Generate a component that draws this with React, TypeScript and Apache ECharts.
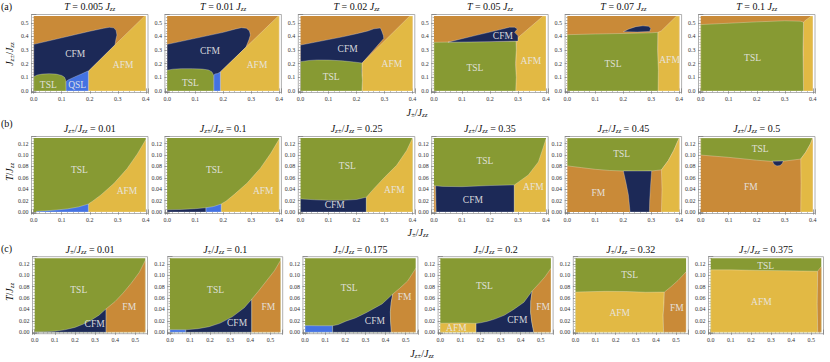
import React, { useEffect, useRef } from "react";
import * as echarts from "echarts";

const SERIF = "Liberation Serif";
const PHASE_COLOR: Record<string, string> = {
  FM: "#C98A38",
  CFM: "#1C2957",
  AFM: "#E2B944",
  TSL: "#879A33",
  QSL: "#4472E2",
};

// ---------- Row (a): x = J±/Jzz, y = Jz±/Jzz at fixed T ----------
const rowA_T = ["0.005", "0.01", "0.02", "0.05", "0.07", "0.1"];

const a1_CFM = [[0, 0], [0, 0.342], [0.05, 0.366], [0.1, 0.39], [0.15, 0.414], [0.2, 0.438], [0.25, 0.46], [0.27, 0.467], [0.285, 0.463], [0.294, 0.445], [0.297, 0.41], [0.293, 0.375], [0.29, 0.338], [0.195, 0.145], [0.195, 0]];
const a1_AFM = [[0.195, 0], [0.4, 0], [0.4, 0.55], [0.396, 0.55], [0.29, 0.338], [0.195, 0.145]];
const a1_TSL = [[0, 0], [0, 0.105], [0.012, 0.117], [0.03, 0.124], [0.055, 0.127], [0.08, 0.124], [0.1, 0.114], [0.11, 0.1], [0.115, 0.075], [0.116, 0]];
const a1_QSL = [[0.116, 0], [0.195, 0], [0.195, 0.148], [0.17, 0.125], [0.14, 0.098], [0.122, 0.08], [0.116, 0.07]];
const a1_labels = [["CFM", 0.148, 0.27], ["AFM", 0.319, 0.19], ["TSL", 0.052, 0.043], ["QSL", 0.155, 0.043]];

const a2_CFM = [[0, 0], [0, 0.342], [0.05, 0.364], [0.1, 0.386], [0.15, 0.408], [0.2, 0.43], [0.245, 0.455], [0.265, 0.464], [0.283, 0.46], [0.294, 0.44], [0.297, 0.41], [0.292, 0.375], [0.281, 0.32], [0.19, 0.14], [0.19, 0]];
const a2_AFM = [[0.19, 0], [0.4, 0], [0.4, 0.55], [0.397, 0.55], [0.281, 0.32], [0.19, 0.14]];
const a2_TSL = [[0, 0], [0, 0.152], [0.02, 0.16], [0.05, 0.164], [0.09, 0.164], [0.125, 0.161], [0.148, 0.154], [0.16, 0.14], [0.166, 0.115], [0.167, 0]];
const a2_QSL = [[0.167, 0], [0.19, 0], [0.19, 0.14], [0.18, 0.128], [0.17, 0.125], [0.167, 0.11]];
const a2_labels = [["CFM", 0.153, 0.29], ["AFM", 0.321, 0.19], ["TSL", 0.083, 0.06]];

const a3_CFM = [[0, 0], [0, 0.337], [0.05, 0.357], [0.1, 0.377], [0.15, 0.397], [0.2, 0.42], [0.24, 0.44], [0.262, 0.456], [0.285, 0.462], [0.29, 0.44], [0.296, 0.405], [0.297, 0.385], [0.22, 0.205], [0.22, 0]];
const a3_AFM = [[0.22, 0], [0.4, 0], [0.4, 0.55], [0.39, 0.55], [0.22, 0.205]];
const a3_TSL = [[0, 0], [0, 0.215], [0.03, 0.224], [0.06, 0.228], [0.1, 0.227], [0.15, 0.221], [0.19, 0.213], [0.22, 0.205], [0.218, 0.15], [0.221, 0.08], [0.219, 0]];
const a3_labels = [["CFM", 0.168, 0.31], ["AFM", 0.326, 0.197], ["TSL", 0.109, 0.1]];

const a4_AFM = [[0.292, 0], [0.4, 0], [0.4, 0.55], [0.39, 0.55], [0.305, 0.4], [0.296, 0.37], [0.293, 0.3]];
const a4_TSL = [[0, 0], [0, 0.357], [0.1, 0.36], [0.2, 0.362], [0.293, 0.366], [0.294, 0.3], [0.291, 0.2], [0.294, 0.1], [0.292, 0]];
const a4_CFM = [[0.05, 0.358], [0.1, 0.383], [0.15, 0.408], [0.2, 0.432], [0.24, 0.452], [0.27, 0.468], [0.288, 0.468], [0.298, 0.455], [0.288, 0.43], [0.3, 0.405], [0.3, 0.366], [0.2, 0.362]];
const a4_labels = [["CFM", 0.246, 0.4], ["AFM", 0.346, 0.22], ["TSL", 0.146, 0.168]];

const a5_AFM = [[0.323, 0], [0.4, 0], [0.4, 0.55], [0.39, 0.55], [0.335, 0.44], [0.323, 0.43]];
const a5_TSL = [[0, 0], [0, 0.413], [0.1, 0.418], [0.2, 0.422], [0.3, 0.427], [0.323, 0.43], [0.322, 0.3], [0.325, 0.15], [0.324, 0]];
const a5_CFM = [[0.2, 0.435], [0.22, 0.455], [0.245, 0.472], [0.27, 0.478], [0.29, 0.474], [0.298, 0.46], [0.294, 0.437], [0.25, 0.433]];
const a5_labels = [["TSL", 0.163, 0.2], ["AFM", 0.365, 0.228]];

const a6_AFM = [[0.366, 0], [0.4, 0], [0.4, 0.55], [0.395, 0.55], [0.372, 0.515], [0.367, 0.505]];
const a6_TSL = [[0, 0], [0, 0.487], [0.1, 0.497], [0.2, 0.507], [0.3, 0.515], [0.355, 0.512], [0.367, 0.505], [0.365, 0.3], [0.367, 0]];
const a6_labels = [["TSL", 0.185, 0.24]];

// ---------- Row (b): x = J±/Jzz, y = T/Jzz at fixed Jz± ----------
const rowB_Jzpm = ["0.01", "0.1", "0.25", "0.35", "0.45", "0.5"];

const b1_AFM = [[0.195, 0], [0.4, 0], [0.4, 0.127], [0.37, 0.102], [0.333, 0.076], [0.286, 0.05], [0.24, 0.03], [0.21, 0.019], [0.195, 0.014]];
const b1_QSL = [[0.01, 0], [0.195, 0], [0.195, 0.014], [0.16, 0.009], [0.12, 0.0055], [0.08, 0.0035], [0.04, 0.002], [0.01, 0.0012]];
const b1_labels = [["TSL", 0.163, 0.073], ["AFM", 0.333, 0.037]];

const b2_AFM = [[0.193, 0], [0.4, 0], [0.4, 0.128], [0.37, 0.103], [0.333, 0.077], [0.286, 0.051], [0.24, 0.031], [0.21, 0.019], [0.193, 0.014]];
const b2_QSL = [[0.138, 0], [0.193, 0], [0.193, 0.014], [0.165, 0.0095], [0.138, 0.0075]];
const b2_CFM = [[0, 0], [0.138, 0], [0.138, 0.0075], [0.1, 0.0058], [0.05, 0.0045], [0, 0.0038]];
const b2_labels = [["TSL", 0.169, 0.073], ["AFM", 0.343, 0.037]];

const b3_CFM = [[0, 0], [0.235, 0], [0.235, 0.026], [0.2, 0.022], [0.15, 0.0205], [0.1, 0.0205], [0.05, 0.0215], [0, 0.023]];
const b3_AFM = [[0.235, 0], [0.4, 0], [0.4, 0.13], [0.379, 0.108], [0.343, 0.082], [0.3, 0.061], [0.26, 0.04], [0.235, 0.026]];
const b3_labels = [["TSL", 0.167, 0.08], ["CFM", 0.122, 0.0127], ["AFM", 0.335, 0.0386]];

const b4_FM = [[0, 0], [0.008, 0], [0.006, 0.046], [0, 0.046]];
const b4_CFM = [[0.008, 0], [0.287, 0], [0.287, 0.0475], [0.2, 0.0465], [0.1, 0.0445], [0.03, 0.045], [0.006, 0.046]];
const b4_AFM = [[0.287, 0], [0.4, 0], [0.4, 0.128], [0.39, 0.113], [0.373, 0.088], [0.337, 0.065], [0.3, 0.052], [0.287, 0.0475]];
const b4_labels = [["TSL", 0.182, 0.089], ["CFM", 0.139, 0.021], ["AFM", 0.355, 0.044]];

const b5_TSL = [[0, 0.13], [0, 0.081], [0.05, 0.078], [0.1, 0.075], [0.15, 0.073], [0.2, 0.072], [0.25, 0.0715], [0.3, 0.072], [0.336, 0.074], [0.36, 0.09], [0.38, 0.108], [0.395, 0.125], [0.4, 0.13]];
const b5_CFM = [[0.2, 0.072], [0.301, 0.072], [0.297, 0.045], [0.294, 0.02], [0.293, 0], [0.224, 0], [0.218, 0.03], [0.21, 0.05]];
const b5_AFM = [[0.336, 0], [0.4, 0], [0.4, 0.13], [0.395, 0.125], [0.38, 0.108], [0.36, 0.09], [0.336, 0.074], [0.338, 0.04]];
const b5_labels = [["TSL", 0.194, 0.101], ["FM", 0.111, 0.034]];

const b6_TSL = [[0, 0.13], [0, 0.1], [0.1, 0.096], [0.2, 0.091], [0.25, 0.089], [0.3, 0.0895], [0.357, 0.093], [0.375, 0.105], [0.392, 0.12], [0.4, 0.13]];
const b6_CFM = [[0.256, 0.0892], [0.262, 0.0835], [0.272, 0.081], [0.283, 0.0815], [0.291, 0.085], [0.295, 0.0895]];
const b6_AFM = [[0.357, 0], [0.4, 0], [0.4, 0.13], [0.392, 0.12], [0.375, 0.105], [0.357, 0.093], [0.358, 0.05]];
const b6_labels = [["TSL", 0.212, 0.111], ["FM", 0.179, 0.0446]];

// ---------- Row (c): x = Jz±/Jzz, y = T/Jzz at fixed J± ----------
const rowC_Jpm = ["0.01", "0.1", "0.175", "0.2", "0.32", "0.375"];

const c1_CFM = [[0, 0], [0.355, 0], [0.355, 0.041], [0.32, 0.03], [0.28, 0.021], [0.24, 0.014], [0.2, 0.0085], [0.15, 0.0042], [0.1, 0.0018], [0.05, 0.0008], [0, 0.0005]];
const c1_FM = [[0.355, 0], [0.55, 0], [0.55, 0.126], [0.52, 0.105], [0.48, 0.086], [0.44, 0.069], [0.4, 0.054], [0.355, 0.041]];
const c1_labels = [["TSL", 0.219, 0.075], ["CFM", 0.298, 0.0137], ["FM", 0.47, 0.044]];

const c2_QSL = [[0, 0], [0.079, 0], [0.079, 0.0042], [0, 0.0045]];
const c2_CFM = [[0.079, 0], [0.407, 0], [0.407, 0.058], [0.37, 0.043], [0.31, 0.027], [0.25, 0.016], [0.195, 0.0097], [0.14, 0.0062], [0.079, 0.0042]];
const c2_FM = [[0.407, 0], [0.55, 0], [0.55, 0.126], [0.52, 0.108], [0.48, 0.09], [0.44, 0.072], [0.407, 0.058]];
const c2_labels = [["TSL", 0.227, 0.075], ["CFM", 0.334, 0.0154], ["FM", 0.49, 0.044]];

const c3_QSL = [[0, 0], [0.137, 0], [0.137, 0.0114], [0.07, 0.0114], [0, 0.0116]];
const c3_CFM = [[0.137, 0], [0.429, 0], [0.425, 0.02], [0.424, 0.036], [0.428, 0.052], [0.436, 0.067], [0.383, 0.0497], [0.301, 0.0337], [0.25, 0.025], [0.203, 0.0194], [0.165, 0.0135], [0.137, 0.0114]];
const c3_FM = [[0.429, 0], [0.55, 0], [0.55, 0.112], [0.51, 0.09], [0.47, 0.077], [0.436, 0.067], [0.428, 0.052], [0.424, 0.036], [0.425, 0.02]];
const c3_labels = [["TSL", 0.219, 0.078], ["CFM", 0.347, 0.019], ["FM", 0.495, 0.061]];

const c4_AFM = [[0, 0], [0.178, 0], [0.178, 0.0155], [0.1, 0.0162], [0, 0.0158]];
const c4_CFM = [[0.178, 0], [0.465, 0], [0.455, 0.018], [0.449, 0.035], [0.45, 0.055], [0.457, 0.0725], [0.416, 0.0526], [0.365, 0.04], [0.318, 0.0297], [0.27, 0.023], [0.236, 0.0194], [0.2, 0.0165], [0.178, 0.0155]];
const c4_FM = [[0.465, 0], [0.55, 0], [0.55, 0.112], [0.52, 0.097], [0.49, 0.085], [0.457, 0.0725], [0.45, 0.055], [0.449, 0.035], [0.455, 0.018]];
const c4_labels = [["TSL", 0.219, 0.081], ["CFM", 0.383, 0.0211], ["AFM", 0.08, 0.008], ["FM", 0.511, 0.044]];

const c5_AFM = [[0, 0], [0.438, 0], [0.436, 0.03], [0.44, 0.05], [0.442, 0.0705], [0.35, 0.0702], [0.25, 0.0715], [0.15, 0.0718], [0.05, 0.071], [0, 0.0705]];
const c5_FM = [[0.438, 0], [0.55, 0], [0.55, 0.106], [0.51, 0.091], [0.475, 0.08], [0.442, 0.0705], [0.44, 0.05], [0.436, 0.03]];
const c5_labels = [["TSL", 0.269, 0.1], ["AFM", 0.22, 0.0337], ["FM", 0.504, 0.0423]];

const c6_AFM = [[0, 0], [0.532, 0], [0.53, 0.05], [0.532, 0.107], [0.45, 0.1075], [0.36, 0.108], [0.25, 0.1085], [0.1, 0.1095], [0, 0.1095]];
const c6_FM = [[0.532, 0], [0.55, 0], [0.55, 0.115], [0.54, 0.111], [0.532, 0.107], [0.53, 0.05]];
const c6_labels = [["TSL", 0.273, 0.1166], ["AFM", 0.252, 0.0526]];

// ---------- layout per row ----------
const ROWS = [
  { left0: 31.5, step: 133.4, width: 116.5, top: 14.5, height: 78, xr: [0, 0.4], yr: [0, 0.55], yIv: 0.1, yDec: 1, yMinor: 5, titleY: 6 },
  { left0: 31.5, step: 133.4, width: 116.5, top: 136.5, height: 77, xr: [0, 0.4], yr: [0, 0.13], yIv: 0.02, yDec: 2, yMinor: 4, titleY: 128 },
  { left0: 32.5, step: 135.2, width: 115, top: 256.7, height: 77, xr: [0, 0.55], yr: [0, 0.13], yIv: 0.02, yDec: 2, yMinor: 4, titleY: 249 },
];

const tA = (v: string) => `{i|T}{r| = ${v} }{i|J}{s|zz}`;
const tB = (v: string) => `{i|J}{s|z±}{r|/}{i|J}{s|zz}{r| = ${v}}`;
const tC = (v: string) => `{i|J}{s|±}{r|/}{i|J}{s|zz}{r| = ${v}}`;

type Panel = { row: number; col: number; title: string; bg: string; regions: [string, number[][]][]; labels: any[] };

const PANELS: Panel[] = [
  { row: 0, col: 0, title: tA(rowA_T[0]), bg: "FM", regions: [["CFM", a1_CFM], ["AFM", a1_AFM], ["TSL", a1_TSL], ["QSL", a1_QSL]], labels: a1_labels },
  { row: 0, col: 1, title: tA(rowA_T[1]), bg: "FM", regions: [["CFM", a2_CFM], ["AFM", a2_AFM], ["TSL", a2_TSL], ["QSL", a2_QSL]], labels: a2_labels },
  { row: 0, col: 2, title: tA(rowA_T[2]), bg: "FM", regions: [["CFM", a3_CFM], ["AFM", a3_AFM], ["TSL", a3_TSL]], labels: a3_labels },
  { row: 0, col: 3, title: tA(rowA_T[3]), bg: "FM", regions: [["AFM", a4_AFM], ["TSL", a4_TSL], ["CFM", a4_CFM]], labels: a4_labels },
  { row: 0, col: 4, title: tA(rowA_T[4]), bg: "FM", regions: [["AFM", a5_AFM], ["TSL", a5_TSL], ["CFM", a5_CFM]], labels: a5_labels },
  { row: 0, col: 5, title: tA(rowA_T[5]), bg: "FM", regions: [["AFM", a6_AFM], ["TSL", a6_TSL]], labels: a6_labels },
  { row: 1, col: 0, title: tB(rowB_Jzpm[0]), bg: "TSL", regions: [["AFM", b1_AFM], ["QSL", b1_QSL]], labels: b1_labels },
  { row: 1, col: 1, title: tB(rowB_Jzpm[1]), bg: "TSL", regions: [["AFM", b2_AFM], ["QSL", b2_QSL], ["CFM", b2_CFM]], labels: b2_labels },
  { row: 1, col: 2, title: tB(rowB_Jzpm[2]), bg: "TSL", regions: [["CFM", b3_CFM], ["AFM", b3_AFM]], labels: b3_labels },
  { row: 1, col: 3, title: tB(rowB_Jzpm[3]), bg: "TSL", regions: [["FM", b4_FM], ["CFM", b4_CFM], ["AFM", b4_AFM]], labels: b4_labels },
  { row: 1, col: 4, title: tB(rowB_Jzpm[4]), bg: "FM", regions: [["TSL", b5_TSL], ["CFM", b5_CFM], ["AFM", b5_AFM]], labels: b5_labels },
  { row: 1, col: 5, title: tB(rowB_Jzpm[5]), bg: "FM", regions: [["TSL", b6_TSL], ["CFM", b6_CFM], ["AFM", b6_AFM]], labels: b6_labels },
  { row: 2, col: 0, title: tC(rowC_Jpm[0]), bg: "TSL", regions: [["CFM", c1_CFM], ["FM", c1_FM]], labels: c1_labels },
  { row: 2, col: 1, title: tC(rowC_Jpm[1]), bg: "TSL", regions: [["QSL", c2_QSL], ["CFM", c2_CFM], ["FM", c2_FM]], labels: c2_labels },
  { row: 2, col: 2, title: tC(rowC_Jpm[2]), bg: "TSL", regions: [["QSL", c3_QSL], ["CFM", c3_CFM], ["FM", c3_FM]], labels: c3_labels },
  { row: 2, col: 3, title: tC(rowC_Jpm[3]), bg: "TSL", regions: [["AFM", c4_AFM], ["CFM", c4_CFM], ["FM", c4_FM]], labels: c4_labels },
  { row: 2, col: 4, title: tC(rowC_Jpm[4]), bg: "TSL", regions: [["AFM", c5_AFM], ["FM", c5_FM]], labels: c5_labels },
  { row: 2, col: 5, title: tC(rowC_Jpm[5]), bg: "TSL", regions: [["AFM", c6_AFM], ["FM", c6_FM]], labels: c6_labels },
];

const RICH = {
  r: { fontFamily: SERIF, fontSize: 10, lineHeight: 13, fill: "#111", color: "#111" },
  i: { fontFamily: SERIF, fontSize: 10, fontStyle: "italic", lineHeight: 13, fill: "#111", color: "#111" },
  s: { fontFamily: SERIF, fontSize: 7, fontStyle: "italic", lineHeight: 7, verticalAlign: "bottom", fill: "#111", color: "#111" },
};

function axis(gi: number, min: number, max: number, iv: number, minor: number, dec: number, labels: boolean, position: string) {
  return {
    type: "value",
    gridIndex: gi,
    position,
    min,
    max,
    minInterval: iv,
    maxInterval: iv,
    axisLine: { show: false },
    axisTick: { show: true, inside: true, length: 2.6, lineStyle: { color: "#7a7a7a", width: 0.7 } },
    minorTick: { show: true, splitNumber: minor, length: 1.3, lineStyle: { color: "#8a8a8a", width: 0.6 } },
    splitLine: { show: false },
    minorSplitLine: { show: false },
    axisLabel: {
      show: labels,
      showMinLabel: false,
      showMaxLabel: false,
      fontSize: 6,
      fontFamily: SERIF,
      color: "#333",
      margin: 3,
      formatter: (v: number) => v.toFixed(dec),
    },
  };
}

function buildOption() {
  const grid: any[] = [];
  const xAxis: any[] = [];
  const yAxis: any[] = [];
  const series: any[] = [];
  const graphic: any[] = [];

  PANELS.forEach((p, g) => {
    const R = ROWS[p.row];
    const left = R.left0 + R.step * p.col;
    grid.push({ left, top: R.top, width: R.width, height: R.height, show: true, borderColor: "#9c9c9c", borderWidth: 0.8, backgroundColor: "#fff" });
    const xpad = (R.xr[1] - R.xr[0]) * 0.02;
    const ypad = (R.yr[1] - R.yr[0]) * 0.02;
    const xmin = R.xr[0] - xpad, xmax = R.xr[1] + xpad;
    const ymin = R.yr[0] - ypad, ymax = R.yr[1] + ypad;
    xAxis.push(axis(g, xmin, xmax, 0.1, 5, 1, true, "bottom"));
    xAxis.push(axis(g, xmin, xmax, 0.1, 5, 1, false, "top"));
    yAxis.push(axis(g, ymin, ymax, R.yIv, R.yMinor, R.yDec, true, "left"));
    yAxis.push(axis(g, ymin, ymax, R.yIv, R.yMinor, R.yDec, false, "right"));

    const shapes: any[] = [];
    shapes.push({ kind: "poly", phase: p.bg, edge: false, pts: [[R.xr[0], R.yr[0]], [R.xr[1], R.yr[0]], [R.xr[1], R.yr[1]], [R.xr[0], R.yr[1]]] });
    p.regions.forEach(([phase, pts]) => shapes.push({ kind: "poly", phase, edge: true, pts }));
    p.labels.forEach(([text, x, y]: any) => shapes.push({ kind: "text", text, x, y }));

    series.push({
      type: "custom",
      coordinateSystem: "cartesian2d",
      xAxisIndex: 2 * g,
      yAxisIndex: 2 * g,
      clip: true,
      silent: true,
      data: shapes.map((_, i) => [0, 0, i]),
      renderItem: (params: any, api: any) => {
        const s = shapes[params.dataIndex];
        if (s.kind === "poly") {
          return {
            type: "polygon",
            shape: { points: s.pts.map((pt: number[]) => api.coord(pt)) },
            style: { fill: PHASE_COLOR[s.phase], stroke: s.edge ? "rgba(255,255,255,0.45)" : null, lineWidth: 0.6 },
          };
        }
        const c = api.coord([s.x, s.y]);
        return {
          type: "text",
          x: c[0],
          y: c[1],
          style: { text: s.text, fill: "rgba(232,232,232,0.92)", fontSize: 9.5, fontFamily: SERIF, align: "center", verticalAlign: "middle" },
        };
      },
    });

    graphic.push({
      type: "text",
      x: left + R.width / 2,
      y: R.titleY,
      style: { text: p.title, rich: RICH, align: "center", verticalAlign: "middle", fill: "#111" },
    });
  });

  const plainTxt = (text: string, x: number, y: number) => ({
    type: "text", x, y,
    style: { text, fill: "#111", fontSize: 10, fontFamily: SERIF, align: "left", verticalAlign: "middle" },
  });
  graphic.push(plainTxt("(a)", 1, 6));
  graphic.push(plainTxt("(b)", 1, 123));
  graphic.push(plainTxt("(c)", 1, 248));

  const axTitle = (text: string, x: number, y: number, rot: number) => ({
    type: "text", x, y, rotation: rot,
    style: { text, rich: RICH, align: "center", verticalAlign: "middle", fill: "#111" },
  });
  graphic.push(axTitle("{i|J}{s|z±}{r|/}{i|J}{s|zz}", 9, 54, Math.PI / 2));
  graphic.push(axTitle("{i|T}{r|/}{i|J}{s|zz}", 9, 172, Math.PI / 2));
  graphic.push(axTitle("{i|T}{r|/}{i|J}{s|zz}", 9, 292, Math.PI / 2));
  graphic.push(axTitle("{i|J}{s|±}{r|/}{i|J}{s|zz}", 417, 112, 0));
  graphic.push(axTitle("{i|J}{s|±}{r|/}{i|J}{s|zz}", 418, 232, 0));
  graphic.push(axTitle("{i|J}{s|z±}{r|/}{i|J}{s|zz}", 422, 353, 0));

  return { animation: false, backgroundColor: "#fff", grid, xAxis, yAxis, series, graphic };
}

export default function App() {
  const ref = useRef<HTMLDivElement>(null);
  useEffect(() => {
    document.body.style.margin = "0";
    const chart = echarts.init(ref.current!, null, { renderer: "svg" });
    chart.setOption(buildOption() as any);
    return () => chart.dispose();
  }, []);
  return <div ref={ref} style={{ position: "fixed", left: 0, top: 0, width: 830, height: 362 }} />;
}
